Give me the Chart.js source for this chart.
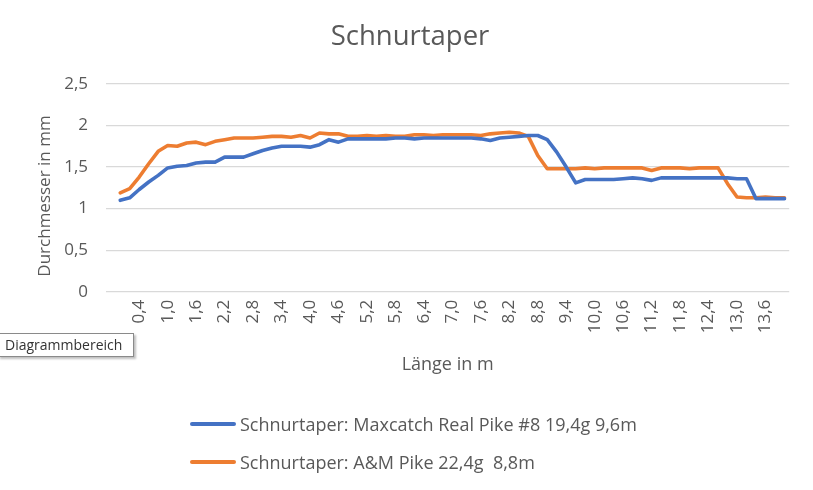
<!DOCTYPE html>
<html>
<head>
<meta charset="utf-8">
<script src="https://cdn.jsdelivr.net/npm/chart.js@4.4.1/dist/chart.umd.min.js"></script>
<style>
  html, body { margin: 0; padding: 0; background: #fff; }
  #wrap { position: relative; width: 813px; height: 490px; }
  canvas { position: absolute; left: 0; top: 0; }
  .leg { position: absolute; left: 190px; font-family: "Open Sans", sans-serif; font-size: 18px; color: #595959; white-space: pre; display: flex; align-items: center; }
  .leg .sw { width: 46px; height: 4px; margin-right: 4px; border-radius: 2px; }
  #tip { position: absolute; left: -2px; top: 333px; width: 128px; height: 22px; border: 1px solid #8a8a8a; background: #fff; font-family: "Open Sans", sans-serif; font-size: 14px; color: #333; line-height: 22px; padding-left: 6px; box-shadow: 2px 2px 2px rgba(0,0,0,0.25); }
</style>
</head>
<body>
<div id="wrap">
  <canvas id="c" width="813" height="490"></canvas>
  <div id="legend"></div>
  <div id="tip">Diagrammbereich</div>
</div>
<script>
const titleText = "Schnurtaper";
const xTitle = "Länge in m";
const yTitle = "Durchmesser in mm";
// first category is blank (as in the source sheet), then 0,0 ... 14,0 in 0,2 m steps
const categories = ["", "0,0","0,2","0,4","0,6","0,8","1,0","1,2","1,4","1,6","1,8",
  "2,0","2,2","2,4","2,6","2,8","3,0","3,2","3,4","3,6","3,8",
  "4,0","4,2","4,4","4,6","4,8","5,0","5,2","5,4","5,6","5,8",
  "6,0","6,2","6,4","6,6","6,8","7,0","7,2","7,4","7,6","7,8",
  "8,0","8,2","8,4","8,6","8,8","9,0","9,2","9,4","9,6","9,8",
  "10,0","10,2","10,4","10,6","10,8","11,0","11,2","11,4","11,6","11,8",
  "12,0","12,2","12,4","12,6","12,8","13,0","13,2","13,4","13,6","13,8","14,0"];
const seriesNames = ["Schnurtaper: Maxcatch Real Pike #8 19,4g 9,6m", "Schnurtaper: A&M Pike 22,4g  8,8m"];
const maxcatch = [null,
  1.10,1.13,1.23,1.32,1.40,1.49,1.51,1.52,1.55,1.56,
  1.56,1.62,1.62,1.62,1.66,1.70,1.73,1.75,1.75,1.75,
  1.74,1.77,1.83,1.80,1.84,1.84,1.84,1.84,1.84,1.85,
  1.85,1.84,1.85,1.85,1.85,1.85,1.85,1.85,1.84,1.82,
  1.85,1.86,1.87,1.88,1.88,1.83,1.68,1.50,1.31,1.35,
  1.35,1.35,1.35,1.36,1.37,1.36,1.34,1.37,1.37,1.37,
  1.37,1.37,1.37,1.37,1.37,1.36,1.36,1.12,1.12,1.12,1.12];
const amPike = [null,
  1.19,1.24,1.38,1.54,1.69,1.76,1.75,1.79,1.80,1.77,
  1.81,1.83,1.85,1.85,1.85,1.86,1.87,1.87,1.86,1.88,
  1.85,1.91,1.90,1.90,1.87,1.87,1.88,1.87,1.88,1.87,
  1.87,1.89,1.89,1.88,1.89,1.89,1.89,1.89,1.88,1.90,
  1.91,1.92,1.91,1.87,1.64,1.48,1.48,1.48,1.48,1.49,
  1.48,1.49,1.49,1.49,1.49,1.49,1.46,1.49,1.49,1.49,
  1.48,1.49,1.49,1.49,1.30,1.14,1.13,1.13,1.14,1.13,1.13];
const yTickValues = [0, 0.5, 1, 1.5, 2, 2.5];
const colors = ["#4472C4", "#ED7D31"];

const txt = "#595959";
const fam = "'Open Sans', sans-serif";

// draws the chart title and the y-axis title where the source places them
const textPlugin = {
  id: "placedText",
  afterDraw: function (chart) {
    const ctx = chart.ctx;
    ctx.save();
    ctx.fillStyle = txt;
    ctx.textAlign = "center";
    ctx.textBaseline = "middle";
    ctx.font = "27.5px " + fam;
    ctx.fillText(titleText, 410, 37);
    ctx.translate(45, 196);
    ctx.rotate(-Math.PI / 2);
    ctx.font = "17px " + fam;
    ctx.fillText(yTitle, 0, 0);
    ctx.restore();
  }
};

new Chart(document.getElementById("c"), {
  type: "line",
  data: {
    labels: categories,
    datasets: [
      { label: seriesNames[0], data: maxcatch, borderColor: colors[0], backgroundColor: colors[0] },
      { label: seriesNames[1], data: amPike, borderColor: colors[1], backgroundColor: colors[1] }
    ]
  },
  plugins: [textPlugin],
  options: {
    responsive: false,
    animation: false,
    events: [],
    layout: { padding: { left: 0, right: 18, top: 84, bottom: 0 } },
    elements: {
      line: { borderWidth: 3.6, tension: 0, borderJoinStyle: "round", borderCapStyle: "round", fill: false },
      point: { radius: 0 }
    },
    plugins: {
      legend: { display: false },
      tooltip: { enabled: false },
      title: { display: false }
    },
    scales: {
      x: {
        type: "category",
        offset: true,
        grid: { display: false, drawTicks: false },
        border: { display: false },
        ticks: {
          autoSkip: false, maxRotation: 90, minRotation: 90, padding: 8,
          color: txt, font: { family: fam, size: 17 },
          callback: function (v, i) { return i % 3 === 0 ? categories[i] : ""; }
        },
        title: { display: true, text: xTitle, color: txt, font: { family: fam, size: 18 }, padding: { top: 0, bottom: 114 } },
        afterFit: function (s) { s.height = 198.3; }
      },
      y: {
        min: 0, max: 2.5,
        afterBuildTicks: function (s) { s.ticks = yTickValues.map(function (v) { return { value: v }; }); },
        grid: { color: "#d9d9d9", lineWidth: 1.3, drawTicks: false },
        border: { display: false },
        ticks: {
          padding: 18, color: txt, font: { family: fam, size: 17 },
          callback: function (v) { return String(v).replace(".", ","); }
        },
        afterFit: function (s) { s.width = 106; }
      }
    }
  }
});

// legend (real text) built from the series names and colours
const lg = document.getElementById("legend");
[424, 462].forEach(function (cy, k) {
  const d = document.createElement("div");
  d.className = "leg";
  d.style.top = (cy - 12) + "px";
  d.style.height = "24px";
  const sw = document.createElement("span");
  sw.className = "sw";
  sw.style.background = colors[k];
  const t = document.createElement("span");
  t.textContent = seriesNames[k];
  d.appendChild(sw); d.appendChild(t);
  lg.appendChild(d);
});
</script>
</body>
</html>
